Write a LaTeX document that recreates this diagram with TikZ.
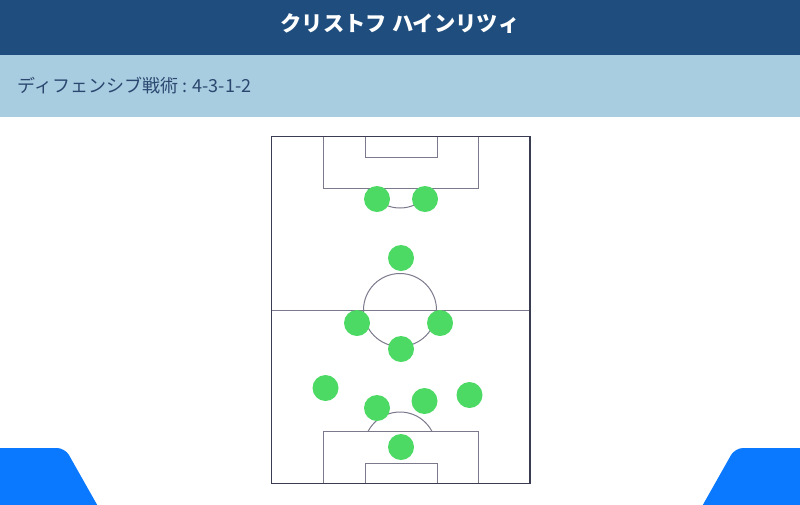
\documentclass[tikz,border=0pt]{standalone}
\usepackage{fontspec}
\newfontfamily\jpfont{Noto Sans CJK JP}
\definecolor{headdark}{HTML}{1F4E7E}
\definecolor{headlight}{HTML}{A9CDE0}
\definecolor{subtext}{HTML}{2B4770}
\definecolor{pitchouter}{HTML}{3A3D52}
\definecolor{pitchinner}{HTML}{7A7A8C}
\definecolor{playergreen}{HTML}{4CD964}
\definecolor{cornerblue}{HTML}{0A78FF}
\begin{document}
\begin{tikzpicture}[x=1pt,y=-1pt,
  outerline/.style={draw=pitchouter,line width=1.8pt},
  innerline/.style={draw=pitchinner,line width=1pt},
  player/.style={circle,fill=playergreen,minimum size=26pt,inner sep=0pt},
  titletext/.style={text=white,font=\jpfont\bfseries\fontsize{21.3}{24}\selectfont},
  subtitletext/.style={text=subtext,font=\jpfont\fontsize{18}{21}\selectfont,anchor=west}]
\useasboundingbox (0,0) rectangle (800,504);
\clip (0,0) rectangle (800,504);
% header bands
\fill[headdark] (0,0) rectangle (800,55);
\fill[headlight] (0,55) rectangle (800,117);
\node[titletext] (title) at (400,24) {クリストフ ハインリツィ};
\node[subtitletext] (subtitle) at (14,86) {ディフェンシブ戦術 : 4-3-1-2};
% corner shapes
\fill[cornerblue,rounded corners=8pt] (-10,448) -- (65,448) -- (102.3,514) -- (-10,514) -- cycle;
\fill[cornerblue,rounded corners=8pt] (810,448) -- (735,448) -- (697.7,514) -- (810,514) -- cycle;
% pitch
\draw[innerline] (271,310) -- (530,310);
\draw[innerline] (400,310) circle[radius=36.5];
\draw[innerline] (323.3,136.5) rectangle (478.3,188.3);
\draw[innerline] (365,136.5) rectangle (437.3,157.3);
\draw[innerline] (323.3,483.5) rectangle (478.3,431.7);
\draw[innerline] (365,483.5) rectangle (437.3,463.3);
\begin{scope}
\clip (300,188.3) rectangle (500,240);
\draw[innerline] (400,172) circle[radius=36];
\end{scope}
\begin{scope}
\clip (300,380) rectangle (500,431.7);
\draw[innerline] (400,448) circle[radius=36];
\end{scope}
\draw[outerline] (271.5,136.5) rectangle (530,483.5);
% players
\node[player] (p1) at (377,199) {};
\node[player] (p2) at (425,199) {};
\node[player] (p3) at (401,258) {};
\node[player] (p4) at (357,323) {};
\node[player] (p5) at (440,323) {};
\node[player] (p6) at (401,349) {};
\node[player] (p7) at (325.5,388) {};
\node[player] (p8) at (377,408) {};
\node[player] (p9) at (424.5,401) {};
\node[player] (p10) at (469.5,395) {};
\node[player] (p11) at (401,447) {};
\end{tikzpicture}
\end{document}
